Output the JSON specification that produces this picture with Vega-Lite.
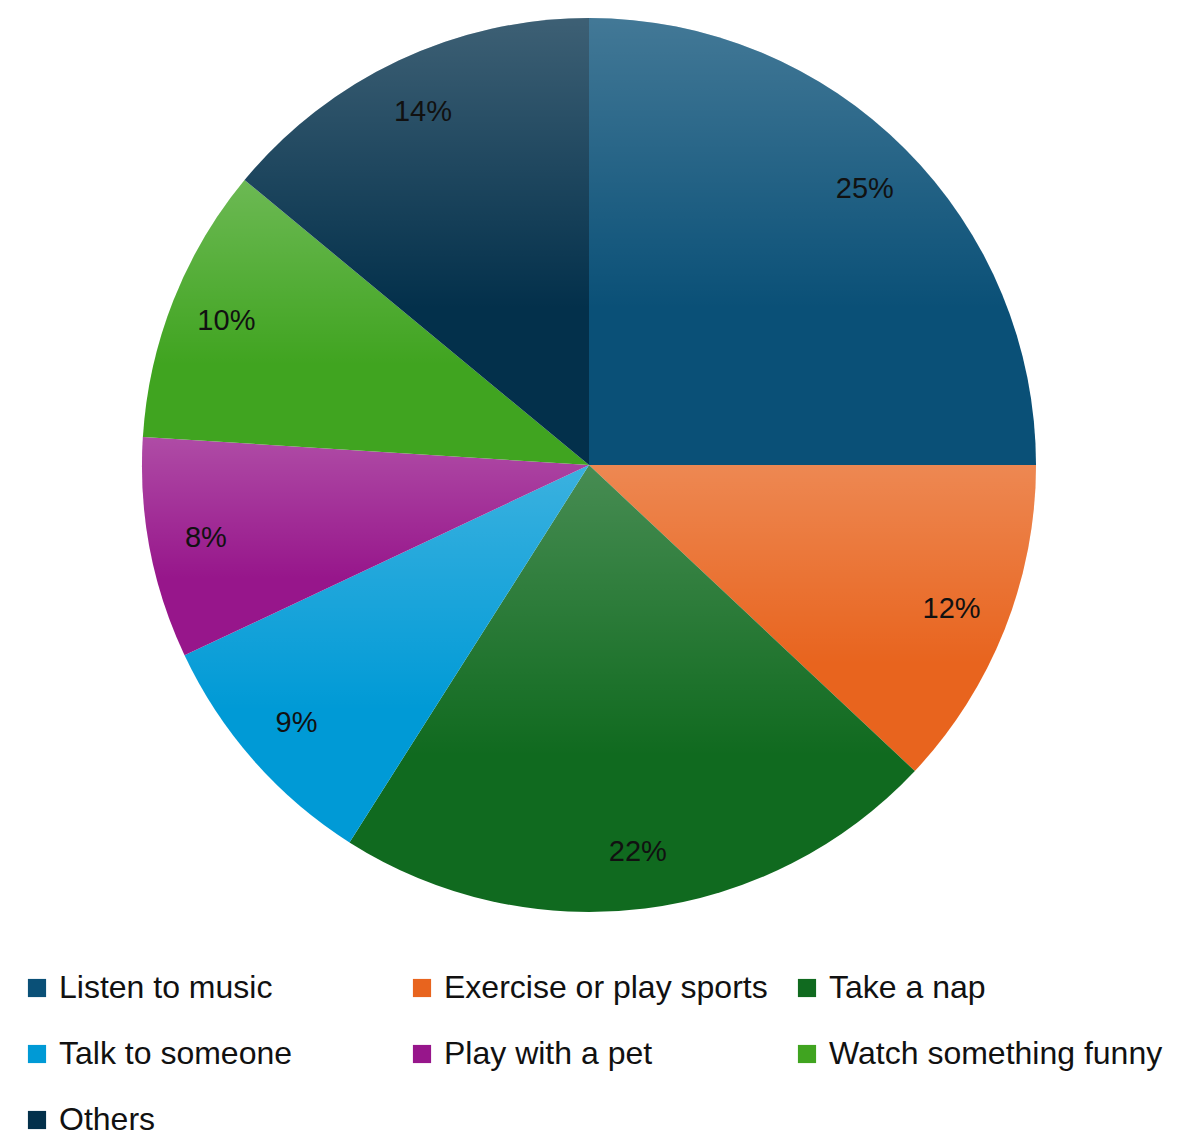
{
  "$schema": "https://vega.github.io/schema/vega-lite/v6.json",
  "width": 1178,
  "height": 930,
  "padding": 0,
  "autosize": {"type": "pad"},
  "background": "white",
  "config": {"view": {"stroke": null}},
  "data": {
    "values": [
      {"activity": "Listen to music", "share": 0.25, "order": 1},
      {"activity": "Exercise or play sports", "share": 0.12, "order": 2},
      {"activity": "Take a nap", "share": 0.22, "order": 3},
      {"activity": "Talk to someone", "share": 0.09, "order": 4},
      {"activity": "Play with a pet", "share": 0.08, "order": 5},
      {"activity": "Watch something funny", "share": 0.10, "order": 6},
      {"activity": "Others", "share": 0.14, "order": 7}
    ]
  },
  "encoding": {
    "theta": {"field": "share", "type": "quantitative", "stack": true},
    "order": {"field": "order", "type": "quantitative"}
  },
  "layer": [
    {
      "mark": {"type": "arc", "outerRadius": 447},
      "encoding": {
        "color": {
          "field": "activity",
          "type": "nominal",
          "scale": {
            "domain": ["Listen to music", "Exercise or play sports", "Take a nap", "Talk to someone", "Play with a pet", "Watch something funny", "Others"],
            "range": ["#0a5077", "#e8641e", "#106a1f", "#009ad6", "#97168b", "#40a420", "#03304b"]
          },
          "legend": {
            "title": null,
            "orient": "none",
            "legendX": 21,
            "legendY": 972,
            "direction": "horizontal",
            "columns": 3,
            "gridAlign": "all",
            "columnPadding": 13,
            "rowPadding": 34,
            "symbolType": "square",
            "symbolSize": 330,
            "symbolStrokeWidth": 0,
            "symbolOpacity": 1,
            "labelFont": "Liberation Sans",
            "labelFontSize": 32,
            "labelColor": "#111111",
            "labelOffset": 6,
            "labelLimit": 400
          }
        }
      }
    },
    {
      "mark": {
        "type": "arc",
        "outerRadius": 447,
        "fill": {
          "gradient": "linear",
          "x1": 0, "y1": 0, "x2": 0, "y2": 1,
          "stops": [
            {"offset": 0, "color": "rgba(255,255,255,0.23)"},
            {"offset": 0.65, "color": "rgba(255,255,255,0)"}
          ]
        }
      },
      "encoding": {
        "detail": {"field": "activity", "type": "nominal"}
      }
    },
    {
      "mark": {"type": "text", "radius": 390, "font": "Liberation Sans", "fontSize": 29, "color": "#111111"},
      "encoding": {
        "text": {"field": "share", "type": "quantitative", "format": ".0%"},
        "detail": {"field": "activity", "type": "nominal"}
      }
    }
  ]
}
